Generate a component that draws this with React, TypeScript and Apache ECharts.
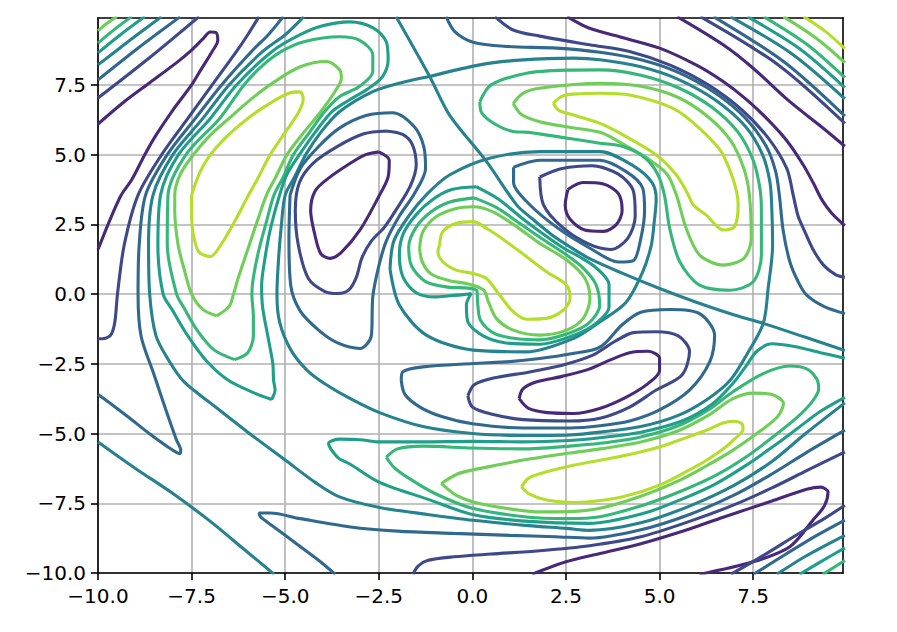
import { useEffect, useRef } from 'react';
import * as echarts from 'echarts';

const xTickValues = [-10, -7.5, -5, -2.5, 0, 2.5, 5, 7.5];
const yTickValues = [-10, -7.5, -5, -2.5, 0, 2.5, 5, 7.5];
const levelColors = ['#482878', '#3e4989', '#31688e', '#26828e', '#1f9e89', '#35b779', '#6ece58', '#b5de2b'];

// top-left corner
const tlCornerL6 = [[-10, 9.44], [-9.75, 9.72], [-9.5, 9.95]];
const tlCornerL5 = [[-10, 9.0], [-9.55, 9.5], [-9.1, 9.95]];
const tlCornerL4 = [[-10, 8.65], [-9.4, 9.3], [-8.75, 9.95]];
const tlCornerL3 = [[-10, 8.22], [-9.15, 9.1], [-8.3, 9.95]];
const tlCornerL2 = [[-10, 7.68], [-8.9, 8.85], [-7.8, 9.95]];
const tlCornerL1 = [[-10, 7.03], [-8.6, 8.5], [-7.3, 9.95]];
const fingerL0 = [[-10, 6.1], [-9.3, 6.9], [-8.6, 7.6], [-7.9, 8.3], [-7.5, 8.75], [-7.2, 9.15], [-7.0, 9.4], [-6.85, 9.38], [-6.8, 9.1], [-6.95, 8.7], [-7.25, 8.05], [-7.5, 7.5], [-8.0, 6.6], [-8.45, 5.7], [-8.75, 5.0], [-9.1, 4.1], [-9.38, 3.55], [-9.7, 2.6], [-10, 1.6]];
// left valley
const longL1 = [[-5.7, 9.95], [-6.0, 9.3], [-6.3, 8.7], [-6.95, 7.5], [-7.6, 6.3], [-8.3, 5.0], [-8.93, 3.55], [-9.3, 1.76], [-9.48, 0.0], [-9.55, -1.0], [-9.65, -1.45], [-9.8, -1.58], [-10, -1.6]];
const longL2 = [[-5.05, 9.95], [-5.45, 9.3], [-5.9, 8.7], [-6.7, 7.5], [-7.4, 6.3], [-8.15, 5.0], [-8.73, 3.55], [-8.9, 1.76], [-8.93, 0.0], [-8.85, -1.5], [-8.5, -2.9], [-8.2, -4.1], [-7.9, -5.24], [-7.79, -5.6], [-7.82, -5.72], [-8.0, -5.6], [-8.57, -5.06], [-9.2, -4.4], [-9.73, -3.86], [-10, -3.6]];
const outerL3 = [[-4.5, 9.95], [-5.0, 9.3], [-5.6, 8.7], [-6.5, 7.5], [-7.2, 6.3], [-8.0, 5.0], [-8.53, 3.55], [-8.65, 1.76], [-8.62, 0], [-8.45, -1.5], [-8.1, -2.4], [-7.7, -3.15], [-7.0, -3.9], [-6.0, -4.95], [-5.0, -5.95], [-4.2, -6.75], [-3.55, -7.27], [-2.48, -7.65], [-1.2, -7.9], [0.02, -8.11], [1.5, -8.3], [2.52, -8.4], [3.13, -8.47], [4.5, -8.2], [5.8, -7.6], [7.0, -6.85], [8.0, -6.0], [8.9, -5.0], [9.95, -3.9]];
// left maximum
const leftLoopL7 = [[-7.5, 3.55], [-7.3, 4.3], [-7.05, 4.9], [-6.6, 5.6], [-6.0, 6.3], [-5.4, 6.85], [-4.9, 7.2], [-4.6, 7.25], [-4.52, 7.0], [-4.65, 6.5], [-5.0, 5.8], [-5.4, 5.0], [-5.75, 4.1], [-6.0, 3.5], [-6.35, 2.6], [-6.7, 1.8], [-7.0, 1.35], [-7.3, 1.5], [-7.45, 2.1], [-7.5, 2.8], [-7.5, 3.55]];
const leftLoopL6 = [[-6.83, -0.78], [-7.2, -0.55], [-7.5, 0], [-7.7, 0.9], [-7.86, 1.76], [-7.95, 3.0], [-7.95, 3.55], [-7.8, 4.3], [-7.45, 5.0], [-7.0, 5.7], [-6.5, 6.3], [-5.9, 7.0], [-5.3, 7.6], [-4.6, 8.15], [-3.9, 8.34], [-3.55, 8.05], [-3.5, 7.74], [-3.7, 7.2], [-4.05, 6.54], [-4.5, 5.8], [-4.95, 5.0], [-5.25, 4.2], [-5.5, 3.55], [-5.75, 2.6], [-6.0, 1.6], [-6.25, 0.6], [-6.38, 0], [-6.5, -0.45], [-6.83, -0.78]];
const leftLoopL5 = [[-6.35, -2.35], [-6.9, -2.0], [-7.35, -1.3], [-7.7, -0.5], [-7.9, 0], [-8.15, 1.76], [-8.13, 3.55], [-7.65, 5.0], [-6.75, 6.3], [-6.1, 7.5], [-5.6, 8.2], [-5.1, 8.7], [-4.5, 9.05], [-3.55, 9.23], [-3.02, 9.11], [-2.66, 8.58], [-2.66, 7.98], [-3.02, 7.44], [-3.55, 7.08], [-3.95, 6.54], [-4.35, 5.8], [-4.78, 5.0], [-5.05, 4.2], [-5.3, 3.55], [-5.5, 2.6], [-5.7, 1.6], [-5.85, 0.6], [-5.89, 0], [-5.85, -0.8], [-5.85, -1.5], [-6.0, -2.1], [-6.35, -2.35]];
const leftLoopL4 = [[-5.36, -3.78], [-5.8, -3.56], [-6.52, -3.09], [-7.1, -2.4], [-7.6, -1.5], [-8.0, -0.6], [-8.26, 0], [-8.4, 1.76], [-8.33, 3.55], [-7.85, 5.0], [-7.0, 6.3], [-6.3, 7.5], [-5.35, 8.7], [-4.6, 9.3], [-4.0, 9.62], [-3.28, 9.76], [-2.65, 9.55], [-2.3, 9.05], [-2.25, 8.4], [-2.4, 7.8], [-2.8, 7.35], [-3.3, 6.95], [-3.75, 6.54], [-4.2, 5.8], [-4.62, 5.0], [-4.95, 4.3], [-5.15, 3.55], [-5.4, 2.3], [-5.55, 1.2], [-5.63, 0.3], [-5.6, -0.5], [-5.45, -1.6], [-5.33, -2.5], [-5.31, -3.09], [-5.27, -3.44], [-5.36, -3.78]];
// big ellipse, diagonal and inner loop (zero level)
const ellipseL3 = [[-1.14, 7.8], [0.2, 8.22], [1.36, 8.4], [2.7, 8.46], [3.41, 8.4], [4.5, 8.15], [5.5, 7.7], [6.5, 6.95], [7.3, 6.0], [7.75, 5.0], [7.95, 4.0], [8.0, 3.0], [8.02, 1.76], [7.9, 0.2], [7.77, -1.05], [7.32, -2.19], [6.88, -3.1], [6.3, -3.75], [5.5, -4.35], [4.5, -4.75], [3.41, -4.95], [2.6, -5.05], [1.36, -5.07], [0.0, -5.0], [-1.32, -4.75], [-2.48, -4.25], [-3.26, -3.75], [-3.9, -3.25], [-4.4, -2.75], [-4.85, -2.0], [-5.15, -1.0], [-5.22, 0], [-5.18, 1.2], [-5.1, 2.5], [-5.0, 3.55], [-4.75, 4.2], [-4.45, 5.0], [-4.05, 5.8], [-3.55, 6.54], [-2.66, 7.26], [-1.9, 7.58], [-1.14, 7.8]];
const diagonalL3 = [[-2.04, 9.95], [-1.14, 7.8], [-0.61, 6.42], [0.38, 4.75], [1.18, 3.2], [1.6, 2.7], [2.1, 2.15], [2.6, 1.7], [3.12, 1.28], [4.0, 0.75], [5.0, 0.2], [6.0, -0.3], [7.0, -0.75], [7.77, -1.05], [8.9, -1.55], [9.95, -2.02]];
const innerLoopL3 = [[-2.2, 0.9], [-2.1, 1.9], [-1.7, 2.8], [-1.2, 3.6], [-0.61, 4.27], [0.46, 4.87], [1.8, 5.11], [3.41, 5.11], [4.3, 4.6], [4.8, 4.0], [4.91, 3.4], [4.85, 2.5], [4.78, 1.76], [4.55, 0.8], [4.1, -0.3], [3.41, -0.99], [2.7, -1.59], [1.45, -2.07], [0.02, -2.01], [-1.23, -1.47], [-1.95, -0.39], [-2.2, 0.9]];
// left minimum rings
const ringAL0 = [[-2.5, 5.1], [-2.22, 4.8], [-2.25, 4.2], [-2.5, 3.5], [-3.0, 2.3], [-3.5, 1.5], [-3.8, 1.28], [-4.05, 1.45], [-4.22, 2.2], [-4.32, 3.0], [-4.2, 3.7], [-3.85, 4.15], [-3.25, 4.7], [-2.85, 5.0], [-2.5, 5.1]];
const ringAL1 = [[-2.3, 5.85], [-1.85, 5.72], [-1.6, 5.35], [-1.5, 4.63], [-1.65, 3.9], [-2.0, 3.1], [-2.35, 2.4], [-2.7, 1.9], [-2.95, 1.3], [-3.1, 0.6], [-3.3, 0.15], [-3.6, 0.02], [-3.95, 0.1], [-4.38, 0.56], [-4.65, 1.76], [-4.73, 3.0], [-4.62, 4.0], [-4.25, 4.7], [-3.6, 5.3], [-2.9, 5.75], [-2.3, 5.85]];
const ringAL2 = [[-4.87, 3.55], [-4.9, 2.0], [-4.85, 0.3], [-4.6, -0.6], [-4.1, -1.3], [-3.6, -1.75], [-3.0, -1.95], [-2.7, -1.5], [-2.66, -0.1], [-2.5, 1.0], [-2.3, 1.9], [-1.95, 2.8], [-1.55, 3.6], [-1.25, 4.5], [-1.3, 5.3], [-1.55, 6.0], [-2.13, 6.5], [-2.84, 6.4], [-3.55, 5.95], [-4.1, 5.3], [-4.6, 4.5], [-4.87, 3.55]];
// lower minimum rings
const ringBL0 = [[1.25, -3.75], [1.35, -3.4], [1.7, -3.15], [2.4, -2.95], [3.1, -2.7], [3.7, -2.35], [4.2, -2.1], [4.7, -2.05], [5.0, -2.3], [5.0, -2.75], [4.7, -3.2], [4.1, -3.7], [3.4, -4.1], [2.7, -4.28], [2.0, -4.25], [1.5, -4.1], [1.25, -3.75]];
const ringBL1 = [[-0.12, -3.65], [0.05, -3.25], [0.6, -3.0], [1.5, -2.8], [2.4, -2.55], [3.2, -2.2], [3.8, -1.7], [4.3, -1.38], [4.9, -1.35], [5.5, -1.5], [5.8, -2.05], [5.6, -2.9], [4.91, -3.44], [4.2, -4.05], [3.41, -4.45], [2.6, -4.55], [1.36, -4.5], [0.5, -4.3], [0.0, -4.05], [-0.12, -3.65]];
const ringBL2 = [[-1.9, -3.1], [-1.86, -2.79], [-1.32, -2.61], [0.02, -2.49], [1.0, -2.42], [1.8, -2.31], [2.6, -2.15], [3.41, -1.9], [4.0, -1.1], [4.5, -0.65], [5.3, -0.55], [6.07, -0.7], [6.47, -1.47], [6.34, -2.43], [5.8, -3.44], [5.0, -4.15], [4.2, -4.55], [3.41, -4.72], [2.6, -4.8], [1.36, -4.8], [0.0, -4.65], [-0.8, -4.4], [-1.4, -4.05], [-1.8, -3.6], [-1.9, -3.1]];
// upper-right minimum rings
const ringCL0 = [[2.55, 3.75], [2.95, 4.0], [3.5, 3.95], [3.9, 3.6], [4.0, 3.0], [3.85, 2.5], [3.5, 2.25], [3.0, 2.3], [2.6, 2.7], [2.48, 3.2], [2.55, 3.75]];
const ringCL1 = [[1.8, 4.2], [2.4, 4.5], [3.2, 4.6], [3.9, 4.3], [4.3, 3.7], [4.35, 2.8], [4.15, 2.0], [3.7, 1.6], [3.1, 1.8], [2.4, 2.4], [1.9, 3.2], [1.8, 4.2]];
const ringCL2 = [[1.1, 4.55], [1.8, 4.8], [3.4, 4.8], [4.1, 4.4], [4.55, 3.8], [4.6, 3.0], [4.5, 2.0], [4.3, 1.2], [3.9, 1.15], [3.2, 1.6], [2.3, 2.35], [1.5, 3.25], [1.1, 4.0], [1.1, 4.55]];
// central peanut maximum
const peanutL7 = [[-0.875, 1.76], [-0.79, 2.24], [-0.43, 2.54], [0.02, 2.6], [0.375, 2.36], [0.91, 1.88], [1.45, 1.34], [1.98, 0.8], [2.52, 0.32], [2.61, -0.16], [2.43, -0.57], [1.98, -0.87], [1.45, -0.9], [1.09, -0.63], [0.73, -0.04], [0.375, 0.56], [0.02, 0.74], [-0.43, 0.86], [-0.79, 1.16], [-0.92, 1.52], [-0.875, 1.76]];
const peanutL6 = [[-1.41, 1.64], [-1.32, 2.24], [-0.96, 2.78], [-0.43, 3.07], [0.02, 3.13], [0.55, 2.95], [1.18, 2.42], [1.8, 1.82], [2.52, 1.22], [3.01, 0.56], [3.14, -0.16], [2.96, -0.87], [2.52, -1.29], [1.8, -1.47], [1.09, -1.29], [0.64, -0.87], [0.42, -0.25], [0.3, 0.15], [-0.16, 0.38], [-0.61, 0.48], [-1.1, 0.72], [-1.34, 1.16], [-1.41, 1.64]];
const peanutL5 = [[0.05, 3.45], [-0.6, 3.3], [-1.1, 2.95], [-1.5, 2.4], [-1.7, 1.7], [-1.62, 1.0], [-1.25, 0.45], [-0.65, 0.25], [-0.15, 0.22], [0.12, 0.12], [0.14, -0.3], [0.22, -0.95], [0.6, -1.42], [1.2, -1.6], [1.8, -1.64], [2.52, -1.43], [3.1, -1.05], [3.4, -0.4], [3.3, 0.35], [2.95, 0.95], [2.52, 1.4], [1.9, 1.95], [1.25, 2.55], [0.65, 3.1], [0.05, 3.45]];
const peanutL4 = [[0.1, 3.85], [-0.55, 3.75], [-1.05, 3.4], [-1.5, 2.85], [-1.85, 2.15], [-1.95, 1.4], [-1.85, 0.6], [-1.5, 0.05], [-1.0, -0.1], [-0.61, -0.06], [-0.25, -0.02], [-0.03, 0.02], [-0.16, -0.39], [-0.12, -0.99], [0.29, -1.5], [0.9, -1.75], [1.8, -1.8], [2.52, -1.57], [3.2, -1.15], [3.65, -0.45], [3.65, 0.35], [3.3, 0.95], [2.85, 1.35], [2.5, 1.6], [1.9, 2.15], [1.3, 2.75], [0.7, 3.4], [0.1, 3.85]];
// upper-right maximum
const urLoopL7 = [[2.16, 6.84], [2.4, 7.1], [2.7, 7.17], [3.41, 7.2], [4.2, 7.14], [5.36, 6.66], [6.07, 5.94], [6.7, 4.99], [7.1, 3.19], [7.0, 2.42], [6.7, 2.3], [6.25, 2.83], [5.9, 3.2], [5.75, 3.6], [5.45, 4.27], [4.91, 4.99], [4.02, 5.71], [3.41, 6.12], [2.7, 6.42], [2.3, 6.6], [2.16, 6.84]];
const urLoopL6 = [[1.09, 6.84], [1.35, 7.2], [1.8, 7.38], [3.41, 7.56], [4.5, 7.45], [5.5, 7.05], [6.3, 6.35], [6.9, 5.5], [7.25, 4.5], [7.4, 3.55], [7.45, 2.0], [7.25, 1.28], [6.7, 1.04], [6.07, 1.4], [5.71, 2.36], [5.45, 3.55], [5.2, 4.3], [4.7, 4.85], [4.0, 5.4], [3.41, 5.8], [2.5, 6.0], [1.8, 6.18], [1.3, 6.45], [1.09, 6.84]];
const urLoopL5 = [[0.2, 6.9], [0.5, 7.5], [1.45, 7.92], [2.5, 8.03], [3.41, 8.04], [4.5, 7.85], [5.5, 7.4], [6.4, 6.7], [7.1, 5.8], [7.5, 4.8], [7.68, 3.8], [7.72, 3.0], [7.72, 1.4], [7.5, 0.44], [6.88, 0.14], [6.07, 0.32], [5.54, 1.16], [5.27, 2.36], [5.13, 3.55], [4.95, 4.3], [4.6, 4.9], [4.0, 5.3], [3.41, 5.41], [2.5, 5.6], [1.5, 5.8], [1.09, 5.83], [0.6, 6.1], [0.25, 6.5], [0.2, 6.9]];
// upper-right valley band
const urBandL0 = [[2.53, 9.95], [3.13, 9.53], [4.0, 9.2], [5.0, 8.82], [6.0, 8.2], [6.7, 7.62], [7.3, 7.0], [7.86, 6.3], [8.4, 5.5], [8.84, 4.63], [9.1, 4.0], [9.35, 3.35], [9.6, 2.9], [9.95, 2.45]];
const urBandL1 = [[0.6, 9.95], [1.09, 9.47], [1.8, 9.25], [3.13, 8.94], [4.2, 8.7], [5.3, 8.2], [6.3, 7.5], [7.2, 6.6], [7.9, 5.6], [8.4, 4.5], [8.57, 3.55], [8.7, 2.8], [8.84, 2.36], [9.1, 1.6], [9.38, 1.04], [9.7, 0.7], [9.95, 0.6]];
const urBandL2 = [[-0.7, 9.95], [-0.47, 9.41], [0.02, 9.03], [0.91, 8.88], [2.25, 8.82], [3.41, 8.67], [4.5, 8.4], [5.5, 7.95], [6.5, 7.2], [7.3, 6.3], [7.85, 5.3], [8.1, 4.4], [8.2, 3.55], [8.3, 2.3], [8.48, 1.16], [8.7, 0.45], [8.93, -0.04], [9.4, -0.45], [9.95, -0.7]];
// top-right corner
const trCornerL0 = [[5.47, 9.95], [6.7, 8.94], [7.5, 8.1], [8.48, 6.9], [9.38, 5.94], [9.95, 5.3]];
const trCornerL1 = [[6.09, 9.95], [8.18, 8.21], [9.95, 6.12]];
const trCornerL2 = [[6.44, 9.95], [8.33, 8.32], [9.95, 6.38]];
const trCornerL3 = [[6.89, 9.95], [8.54, 8.61], [9.95, 7.0]];
const trCornerL4 = [[7.35, 9.95], [8.75, 8.79], [9.95, 7.4]];
const trCornerL5 = [[7.78, 9.95], [8.94, 8.95], [9.95, 7.76]];
const trCornerL6 = [[8.31, 9.95], [9.17, 9.19], [9.95, 8.3]];
const trCornerL7 = [[8.85, 9.95], [9.43, 9.42], [9.95, 8.8]];
// lower-right maximum
const lrLoopL7 = [[1.31, -6.91], [1.5, -6.6], [1.8, -6.44], [2.7, -6.14], [3.41, -5.96], [4.2, -5.75], [5.0, -5.48], [5.6, -5.2], [6.25, -4.88], [6.7, -4.62], [6.96, -4.56], [7.2, -4.65], [7.23, -4.85], [7.0, -5.2], [6.7, -5.55], [6.2, -6.0], [5.8, -6.3], [5.0, -6.85], [4.02, -7.27], [3.13, -7.45], [2.7, -7.47], [1.98, -7.38], [1.5, -7.15], [1.31, -6.91]];
const lrLoopL6 = [[-0.83, -6.79], [-0.4, -6.45], [0.02, -6.3], [0.7, -6.12], [1.36, -5.95], [2.6, -5.7], [3.41, -5.55], [4.5, -5.3], [5.5, -4.9], [6.3, -4.35], [6.96, -3.75], [7.5, -3.55], [8.0, -3.6], [8.31, -3.92], [8.15, -4.4], [7.6, -5.0], [6.9, -5.65], [6.2, -6.2], [5.5, -6.7], [4.5, -7.25], [3.41, -7.68], [2.6, -7.8], [1.8, -7.81], [1.0, -7.7], [0.02, -7.45], [-0.45, -7.2], [-0.83, -6.79]];
const lrLoopL5 = [[-2.3, -5.85], [-2.0, -5.55], [-1.32, -5.45], [0.0, -5.52], [1.36, -5.55], [2.6, -5.45], [3.41, -5.35], [4.5, -5.12], [5.5, -4.72], [6.3, -4.15], [6.96, -3.5], [7.77, -2.85], [8.48, -2.58], [8.93, -2.68], [9.2, -3.05], [9.25, -3.4], [9.05, -3.9], [8.65, -4.45], [8.05, -5.1], [7.3, -5.85], [6.5, -6.5], [5.6, -7.05], [4.6, -7.55], [3.41, -7.98], [2.5, -8.05], [1.5, -8.0], [0.0, -7.68], [-1.0, -7.15], [-1.7, -6.6], [-2.1, -6.2], [-2.3, -5.85]];
const lrLoopL4 = [[9.95, -2.3], [9.3, -2.1], [8.6, -1.88], [8.0, -1.78], [7.6, -2.05], [7.3, -2.6], [6.96, -3.2], [6.4, -3.95], [5.6, -4.55], [4.5, -4.95], [3.41, -5.15], [2.6, -5.25], [1.36, -5.3], [0.0, -5.28], [-1.32, -5.3], [-2.48, -5.3], [-3.0, -5.22], [-3.55, -5.2], [-3.84, -5.36], [-3.6, -5.85], [-3.26, -6.1], [-2.48, -6.75], [-1.2, -7.35], [0.0, -7.9], [1.5, -8.15], [3.13, -8.22], [4.6, -7.85], [5.6, -7.35], [6.5, -6.8], [7.3, -6.15], [8.05, -5.45], [8.7, -4.8], [9.3, -4.2], [9.95, -3.7]];
// bottom valley
const bottomL2 = [[-3.66, -10.05], [-4.1, -9.55], [-4.7, -8.95], [-5.3, -8.35], [-5.65, -8.0], [-5.7, -7.85], [-5.4, -7.85], [-4.6, -8.05], [-3.26, -8.35], [-2.0, -8.5], [-0.5, -8.58], [1.0, -8.65], [2.2, -8.7], [3.13, -8.75], [4.5, -8.45], [5.8, -7.9], [7.0, -7.2], [8.0, -6.45], [8.9, -5.7], [9.95, -4.88]];
const bottomL1 = [[-1.59, -10.05], [-1.45, -9.75], [-1.2, -9.55], [-0.5, -9.42], [0.5, -9.32], [1.8, -9.2], [3.13, -9.02], [4.5, -8.7], [5.8, -8.15], [7.0, -7.55], [8.0, -6.95], [8.9, -6.35], [9.5, -5.95], [9.95, -5.66]];
const bottomL0 = [[1.59, -10.05], [2.5, -9.6], [3.41, -9.3], [4.5, -8.95], [5.8, -8.42], [6.7, -8.0], [8.0, -7.42], [8.93, -7.0], [9.3, -6.92], [9.5, -7.1], [9.4, -7.6], [9.1, -8.1], [8.48, -9.06], [7.5, -9.6], [6.06, -10.05]];
// corners at the bottom
const blCornerL3 = [[-10, -5.3], [-9.0, -6.25], [-8.0, -7.15], [-7.0, -8.15], [-6.1, -9.15], [-5.29, -10.05]];
const brCornerL1 = [[6.9, -10.05], [7.8, -9.35], [8.7, -8.6], [9.4, -8.05], [9.95, -7.57]];
const brCornerL2 = [[7.51, -10.05], [8.4, -9.3], [9.2, -8.65], [9.95, -8.1]];
const brCornerL3 = [[8.13, -10.05], [8.9, -9.4], [9.95, -8.65]];
const brCornerL4 = [[8.74, -10.05], [9.3, -9.6], [9.95, -9.1]];
const brCornerL5 = [[9.36, -10.05], [9.95, -9.55]];

const contourLines: { level: number; points: number[][] }[] = [
  { level: 6, points: tlCornerL6 }, { level: 5, points: tlCornerL5 }, { level: 4, points: tlCornerL4 },
  { level: 3, points: tlCornerL3 }, { level: 2, points: tlCornerL2 }, { level: 1, points: tlCornerL1 },
  { level: 0, points: fingerL0 }, { level: 1, points: longL1 }, { level: 2, points: longL2 },
  { level: 3, points: outerL3 },
  { level: 7, points: leftLoopL7 }, { level: 6, points: leftLoopL6 }, { level: 5, points: leftLoopL5 }, { level: 4, points: leftLoopL4 },
  { level: 3, points: ellipseL3 }, { level: 3, points: diagonalL3 }, { level: 3, points: innerLoopL3 },
  { level: 0, points: ringAL0 }, { level: 1, points: ringAL1 }, { level: 2, points: ringAL2 },
  { level: 0, points: ringBL0 }, { level: 1, points: ringBL1 }, { level: 2, points: ringBL2 },
  { level: 0, points: ringCL0 }, { level: 1, points: ringCL1 }, { level: 2, points: ringCL2 },
  { level: 7, points: peanutL7 }, { level: 6, points: peanutL6 }, { level: 5, points: peanutL5 }, { level: 4, points: peanutL4 },
  { level: 7, points: urLoopL7 }, { level: 6, points: urLoopL6 }, { level: 5, points: urLoopL5 },
  { level: 0, points: urBandL0 }, { level: 1, points: urBandL1 }, { level: 2, points: urBandL2 },
  { level: 0, points: trCornerL0 }, { level: 1, points: trCornerL1 }, { level: 2, points: trCornerL2 },
  { level: 3, points: trCornerL3 }, { level: 4, points: trCornerL4 }, { level: 5, points: trCornerL5 },
  { level: 6, points: trCornerL6 }, { level: 7, points: trCornerL7 },
  { level: 7, points: lrLoopL7 }, { level: 6, points: lrLoopL6 }, { level: 5, points: lrLoopL5 }, { level: 4, points: lrLoopL4 },
  { level: 2, points: bottomL2 }, { level: 1, points: bottomL1 }, { level: 0, points: bottomL0 },
  { level: 3, points: blCornerL3 },
  { level: 1, points: brCornerL1 }, { level: 2, points: brCornerL2 }, { level: 3, points: brCornerL3 },
  { level: 4, points: brCornerL4 }, { level: 5, points: brCornerL5 },
];

const fmt = (v: number) => (v < 0 ? '\u2212' : '') + Math.abs(v).toFixed(1);

export default function App() {
  const ref = useRef<HTMLDivElement>(null);
  useEffect(() => {
    const chart = echarts.init(ref.current as HTMLDivElement, null, { renderer: 'svg' });
    const font = { fontFamily: 'DejaVu Sans', fontSize: 20, color: '#000' };
    const frameLine = { show: true, onZero: false, lineStyle: { color: '#000', width: 1.6 } };
    chart.setOption({
      animation: false,
      backgroundColor: '#fff',
      grid: { left: 98, top: 18, width: 745, height: 555, containLabel: false },
      xAxis: [
        {
          type: 'value', min: -10, max: 9.9, interval: 2.5, position: 'bottom',
          axisLine: frameLine,
          axisTick: { show: true, length: 7, lineStyle: { color: '#000', width: 1.6 }, customValues: xTickValues },
          axisLabel: { ...font, margin: 13, formatter: fmt, customValues: xTickValues },
          splitLine: { show: true, lineStyle: { color: '#b0b0b0', width: 1.6 } },
        },
        {
          type: 'value', min: -10, max: 9.9, position: 'top',
          axisLine: frameLine, axisTick: { show: false }, axisLabel: { show: false }, splitLine: { show: false },
        },
      ],
      yAxis: [
        {
          type: 'value', min: -10, max: 9.9, interval: 2.5, position: 'left',
          axisLine: frameLine,
          axisTick: { show: true, length: 7, lineStyle: { color: '#000', width: 1.6 }, customValues: yTickValues },
          axisLabel: { ...font, margin: 12, formatter: fmt, customValues: yTickValues },
          splitLine: { show: true, lineStyle: { color: '#b0b0b0', width: 1.6 } },
        },
        {
          type: 'value', min: -10, max: 9.9, position: 'right',
          axisLine: frameLine, axisTick: { show: false }, axisLabel: { show: false }, splitLine: { show: false },
        },
      ],
      series: contourLines.map((c) => ({
        type: 'line',
        xAxisIndex: 0,
        yAxisIndex: 0,
        data: c.points,
        showSymbol: false,
        symbol: 'none',
        smooth: 0.3,
        silent: true,
        lineStyle: { color: levelColors[c.level], width: 3.1 },
      })),
    });
    return () => chart.dispose();
  }, []);
  return <div ref={ref} style={{ position: 'absolute', left: 0, top: 0, width: 897, height: 632 }} />;
}
